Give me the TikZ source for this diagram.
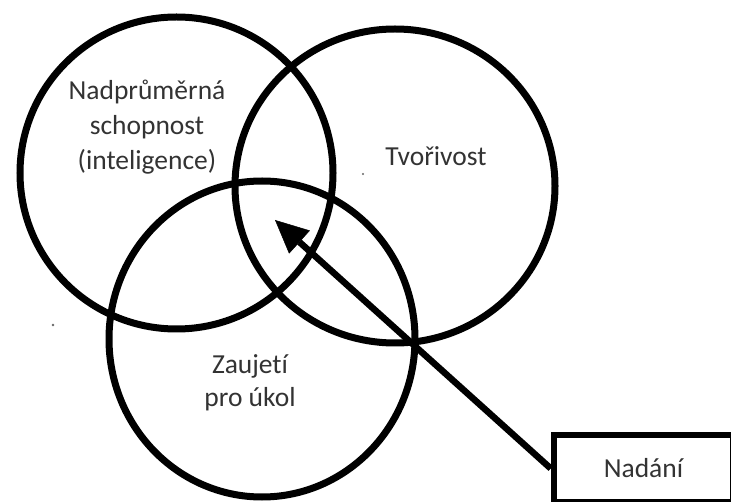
\documentclass[tikz,border=0pt]{standalone}
\usepackage{fontspec}
\setmainfont{Carlito}[Ligatures={NoCommon}]
\usetikzlibrary{arrows.meta,shapes.geometric}
\begin{document}
\begin{tikzpicture}[x=1pt,y=-1pt,
  ring/.style={draw=black,line width=7pt,ellipse,inner sep=0pt},
  label/.style={text=black!80,font=\fontsize{27.5}{35}\selectfont,align=center,anchor=base,inner sep=0pt},
  boxnode/.style={draw=black,line width=6.5pt,minimum width=179pt,minimum height=67pt,inner sep=0pt,text=black!80,font=\fontsize{27.5}{35}\selectfont},
  connector/.style={line width=6.5pt,-{Triangle[length=33pt,width=31pt,line width=0.5pt]}}
]
\clip (0,0) rectangle (731,502);
\fill[white] (0,0) rectangle (731,502);
\node[ring,minimum width=313pt,minimum height=312pt] (c1) at (176.5,173) {};
\node[ring,minimum width=320pt,minimum height=314pt] (c2) at (395,186) {};
\node[ring,minimum width=306pt,minimum height=316pt] (c3) at (262,339) {};
\node[label] (t1) at (147,170) {Nadprůměrná\\schopnost\\(inteligence)};
\node[label] (t2) at (436,166) {Tvořivost};
\node[label,font=\fontsize{27.5}{34}\selectfont] (t3) at (250,407) {Zaujetí\\pro úkol};
\node[boxnode] (box) at (643.5,468.5) {Nadání};
\coordinate (tip) at (275,220);
\draw[connector] (box.west) -- (tip);
\fill[black!60] (363,174) circle (1.2pt);
\fill[black!60] (53,325) circle (1.4pt);
\end{tikzpicture}
\end{document}
